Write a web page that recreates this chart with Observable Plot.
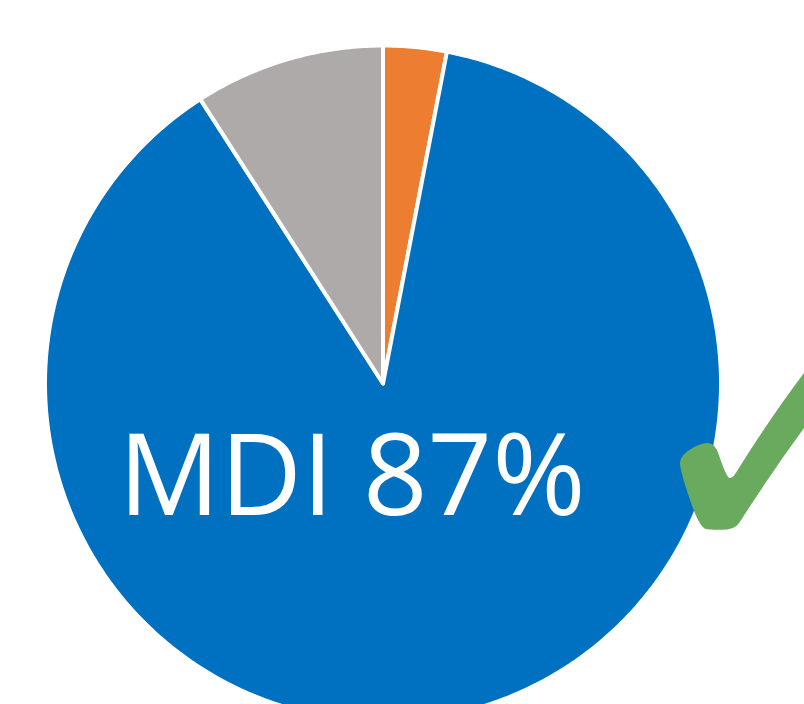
<!DOCTYPE html>
<html>
<head>
<meta charset="utf-8">
<script src="https://cdn.jsdelivr.net/npm/d3@7"></script>
<script src="https://cdn.jsdelivr.net/npm/@observablehq/plot@0.6"></script>
<style>
  html, body { margin: 0; padding: 0; background: #fff; overflow: hidden; }
  #chart svg { display: block; }
</style>
</head>
<body>
<div id="chart"></div>
<script>
// ---- data ----
const categories = ["Other A", "MDI", "Other B"];
const values = [3, 87, 9];
const colors = ["#ED7D31", "#0070C0", "#AEAAAA"];
const sliceLabels = ["", "MDI 87%", ""];

// ---- layout / style ----
const W = 804, H = 704;
const R = 338;              // pixel radius
const CX = 382.5, CY = 383; // pixel centre
const labelPolar = {angle: 193.2, radius: 0.401}; // degrees clockwise from top, fraction of radius

// arcs from d3.pie (clockwise from 12 o'clock)
const arcs = d3.pie().sort(null).value(d => d.value)(
  categories.map((c, i) => ({category: c, value: values[i], color: colors[i], label: sliceLabels[i]}))
);

function ring(a0, a1) {
  const pts = [[0, 0]];
  const n = Math.max(4, Math.ceil((a1 - a0) / 0.01));
  for (let k = 0; k <= n; k++) {
    const a = a0 + (a1 - a0) * k / n;
    pts.push([Math.sin(a), -Math.cos(a)]);
  }
  pts.push([0, 0]);
  return pts;
}

const slices = arcs.map(a => ({
  type: "Feature",
  properties: a.data,
  geometry: {type: "Polygon", coordinates: [ring(a.startAngle, a.endAngle)]}
}));

const labelData = arcs.filter(a => a.data.label).map(a => {
  const ang = labelPolar.angle * Math.PI / 180;
  return {label: a.data.label, x: labelPolar.radius * Math.sin(ang), y: -labelPolar.radius * Math.cos(ang)};
});

const domain = {type: "MultiPoint", coordinates: [[-CX / R, -CY / R], [(W - CX) / R, (H - CY) / R]]};

const chart = Plot.plot({
  width: W,
  height: H,
  margin: 0,
  projection: {type: "identity", domain, inset: 0, clip: false},
  style: {background: "#fff", overflow: "hidden"},
  marks: [
    Plot.geo(slices, {fill: d => d.properties.color, stroke: "#fff", strokeWidth: 4, strokeLinejoin: "round"}),
    Plot.text(labelData, {
      x: "x", y: "y", text: "label", fill: "#fff",
      fontSize: 113, fontFamily: "Open Sans", textAnchor: "middle", lineAnchor: "bottom"
    }),
    Plot.text(["\u2713"], {
      x: [(621 - CX) / R], y: [(567 - CY) / R], text: d => d,
      fill: "#6AAA5F", fontSize: 390, fontFamily: "DejaVu Sans",
      textAnchor: "start", lineAnchor: "bottom"
    })
  ]
});
document.getElementById("chart").appendChild(chart);
</script>
</body>
</html>
